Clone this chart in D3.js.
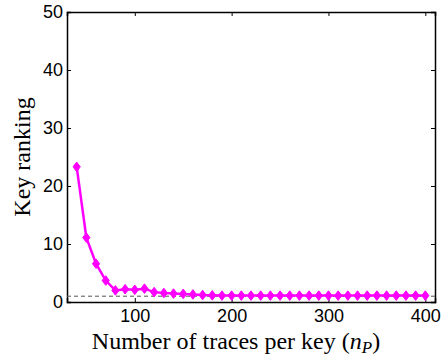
<!DOCTYPE html>
<html>
<head>
<meta charset="utf-8">
<script src="https://cdn.jsdelivr.net/npm/d3@7"></script>
<style>
  body { margin: 0; background: #fff; }
  svg { display: block; }
  .tick text { font-family: "Liberation Sans", Arial, sans-serif; font-size: 18px; fill: #000; }
  .lbl { font-family: "Liberation Serif", "DejaVu Serif", serif; font-size: 24px; fill: #000; }
</style>
</head>
<body>
<div id="chart"></div>
<script>
// 横轴：每个密钥的曲线条数
const tracesPerKey = [40, 50, 60, 70, 80, 90, 100, 110, 120, 130, 140, 150, 160, 170, 180, 190, 200,
  210, 220, 230, 240, 250, 260, 270, 280, 290, 300, 310, 320, 330, 340, 350, 360, 370, 380, 390, 400];
// 纵轴：密钥排名
const keyRanking = [23.3, 11.1, 6.6, 3.7, 2.0, 2.2, 2.1, 2.3, 1.7, 1.55, 1.45, 1.4, 1.3, 1.2, 1.15, 1.1, 1.1,
  1.1, 1.1, 1.1, 1.1, 1.1, 1.1, 1.1, 1.1, 1.1, 1.1, 1.1, 1.1, 1.1, 1.1, 1.1, 1.1, 1.1, 1.1, 1.1, 1.1];
const refLevel = 1;
const xTicks = [100, 200, 300, 400];
const yTicks = [0, 10, 20, 30, 40, 50];

const width = 445, height = 358;
const margin = { top: 12, right: 10, bottom: 56, left: 67 };

const svg = d3.select("#chart").append("svg")
  .attr("width", width)
  .attr("height", height);

const x = d3.scaleLinear().domain([30, 410]).range([margin.left, width - margin.right]);
const y = d3.scaleLinear().domain([0, 50]).range([height - margin.bottom, margin.top]);

const tickLen = 4;

// 坐标轴（刻度朝内，MATLAB风格的框）
const gx = svg.append("g")
  .attr("transform", `translate(0,${y(0)})`)
  .call(d3.axisBottom(x).tickValues(xTicks).tickSize(-tickLen).tickPadding(7));
const gxTop = svg.append("g")
  .attr("transform", `translate(0,${y(50)})`)
  .call(d3.axisTop(x).tickValues(xTicks).tickSize(-tickLen).tickFormat(""));
const gy = svg.append("g")
  .attr("transform", `translate(${x(30)},0)`)
  .call(d3.axisLeft(y).tickValues(yTicks).tickSize(-tickLen).tickPadding(4));
const gyRight = svg.append("g")
  .attr("transform", `translate(${x(410)},0)`)
  .call(d3.axisRight(y).tickValues(yTicks).tickSize(-tickLen).tickFormat(""));

[gx, gxTop, gy, gyRight].forEach(g => {
  g.selectAll("path.domain").attr("stroke", "#000").attr("stroke-width", 1.5);
  g.selectAll(".tick line").attr("stroke", "#000");
});

// 参考虚线
svg.append("line")
  .attr("x1", x(30)).attr("x2", x(410))
  .attr("y1", y(refLevel)).attr("y2", y(refLevel))
  .attr("stroke", "#555")
  .attr("stroke-width", 1)
  .attr("stroke-dasharray", "4,3");

const data = tracesPerKey.map((t, i) => ({ t, r: keyRanking[i] }));

svg.append("path")
  .datum(data)
  .attr("fill", "none")
  .attr("stroke", "#ff00ff")
  .attr("stroke-width", 2.5)
  .attr("d", d3.line().x(d => x(d.t)).y(d => y(d.r)));

// 菱形标记
const diamond = {
  draw(ctx, size) {
    const w = Math.sqrt(size) * 0.45, h = Math.sqrt(size) * 0.6;
    ctx.moveTo(0, -h); ctx.lineTo(w, 0); ctx.lineTo(0, h); ctx.lineTo(-w, 0); ctx.closePath();
  }
};
svg.append("g").selectAll("path")
  .data(data)
  .enter()
  .append("path")
  .attr("transform", d => `translate(${x(d.t)},${y(d.r)})`)
  .attr("d", d3.symbol().type(diamond).size(64))
  .attr("fill", "#ff00ff")
  .attr("stroke", "#ff00ff")
  .attr("stroke-width", 1);

// 轴标题
const xl = svg.append("text")
  .attr("class", "lbl")
  .attr("x", 236)
  .attr("y", 349)
  .attr("text-anchor", "middle");
xl.append("tspan").text("Number of traces per key (");
xl.append("tspan").attr("font-style", "italic").text("n");
xl.append("tspan").attr("font-style", "italic").attr("font-size", "17px").attr("dy", 4).text("P");
xl.append("tspan").attr("dy", -4).text(")");

svg.append("text")
  .attr("class", "lbl")
  .attr("transform", `translate(30,${(y(0) + y(50)) / 2}) rotate(-90)`)
  .attr("text-anchor", "middle")
  .text("Key ranking");
</script>
</body>
</html>
